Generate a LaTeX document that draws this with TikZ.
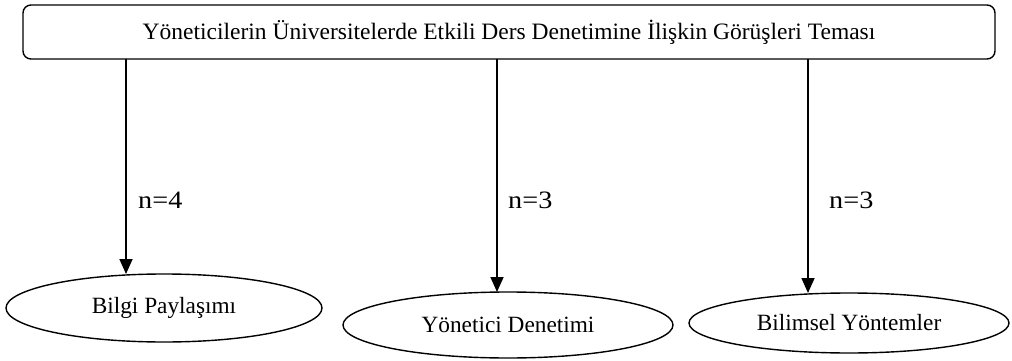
\documentclass[tikz,border=0pt]{standalone}
\usepackage{fontspec}
\setmainfont{Liberation Serif}
\usetikzlibrary{shapes.geometric,arrows.meta}
\newcommand{\widetext}[1]{\scalebox{1.13}[1]{#1}}
\tikzset{
  titlebox/.style={draw, line width=1.4pt, rounded corners=8pt, minimum width=972pt, minimum height=54pt, inner sep=0pt, outer sep=0pt, font=\fontsize{23.5}{26}\selectfont},
  oval/.style={draw, ellipse, line width=1.4pt, inner sep=0pt, outer sep=0pt, font=\fontsize{23.3}{26}\selectfont},
  arr/.style={line width=1.7pt, -{Triangle[length=15pt,width=13pt]}},
  nlabel/.style={anchor=west, inner sep=0pt, font=\fontsize{25}{28}\selectfont}
}
\begin{document}
\begin{tikzpicture}[x=1pt,y=-1pt]
\useasboundingbox (0,0) rectangle (1012,361);
\node[titlebox] (title) at (509,32) {Yöneticilerin Üniversitelerde Etkili Ders Denetimine İlişkin Görüşleri Teması};
\node[oval, minimum width=316pt, minimum height=68pt] (e1) at (164,308) {Bilgi Paylaşımı};
\node[oval, minimum width=330pt, minimum height=66pt] (e2) at (508,325) {Yönetici Denetimi};
\node[oval, minimum width=320pt, minimum height=60pt] (e3) at (849,323) {Bilimsel Yöntemler};
\coordinate (s1) at (126,59);
\coordinate (s2) at (497,59);
\coordinate (s3) at (808,59);
\draw[arr] (s1) -- (s1 |- e1.north);
\draw[arr] (s2) -- (s2 |- e2.north);
\draw[arr] (s3) -- (s3 |- e3.north);
\node[nlabel] (n1) at (138,200) {\widetext{n=4}};
\node[nlabel] (n2) at (508,200) {\widetext{n=3}};
\node[nlabel] (n3) at (829,200) {\widetext{n=3}};
\end{tikzpicture}
\end{document}
